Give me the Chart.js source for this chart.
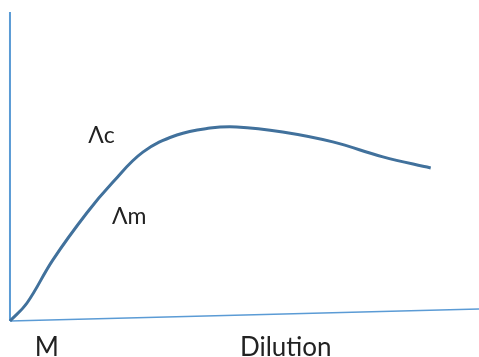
<!DOCTYPE html>
<html>
<head>
<meta charset="utf-8">
<script src="https://cdn.jsdelivr.net/npm/chart.js@4.4.1/dist/chart.umd.min.js"></script>
<style>
  html, body { margin: 0; padding: 0; background: #fff; }
  #wrap { width: 479px; height: 357px; }
</style>
</head>
<body>
<div id="wrap"><canvas id="myChart" width="479" height="357"></canvas></div>
<script>
// conductivity vs dilution (arbitrary units)
const dilution = [0, 0.37, 0.93, 1.67, 2.24, 2.89, 3.63, 4.35, 4.93, 5.93, 7.02, 8.11, 9.15];
const conductivity = [0, 0.6, 2.03, 3.6, 4.63, 5.63, 6.2, 6.43, 6.47, 6.3, 5.97, 5.47, 5.1];

// hand drawn axes: y axis straight up, x axis slightly tilted
const yAxisEnd = [0, 10.3];
const xAxisEnd = [10.2, 0.4];

const labelTexts = ['Λc', 'Λm', 'M', 'Dilution'];
const labelX = [1.7, 2.22, 0.54, 5.0];
const labelY = [5.93, 3.23, -1.17, -1.17];

const textLabels = {
  id: 'textLabels',
  afterDatasetsDraw(chart) {
    const { ctx, scales: { x, y } } = chart;
    ctx.save();
    ctx.fillStyle = '#222';
    ctx.textBaseline = 'alphabetic';
    ctx.textAlign = 'left';
    labelTexts.forEach((t, i) => {
      ctx.font = i < 2 ? '23px Lato' : '26px Lato';
      ctx.fillText(t, x.getPixelForValue(labelX[i]), y.getPixelForValue(labelY[i]));
    });
    ctx.restore();
  }
};

const ctx = document.getElementById('myChart').getContext('2d');
new Chart(ctx, {
  type: 'scatter',
  data: {
    datasets: [
      {
        data: dilution.map((d, i) => ({ x: d, y: conductivity[i] })),
        showLine: true,
        borderColor: '#41719c',
        borderWidth: 3,
        pointRadius: 0,
        tension: 0.4,
        order: 0,
      },
      {
        data: [{ x: 0, y: 0 }, { x: yAxisEnd[0], y: yAxisEnd[1] }],
        showLine: true,
        borderColor: '#5b9bd5',
        borderWidth: 2,
        pointRadius: 0,
        order: 1,
      },
      {
        data: [{ x: 0, y: 0 }, { x: xAxisEnd[0], y: xAxisEnd[1] }],
        showLine: true,
        borderColor: '#5b9bd5',
        borderWidth: 1.6,
        pointRadius: 0,
        order: 1,
      },
    ],
  },
  options: {
    responsive: false,
    animation: false,
    layout: { padding: 0 },
    plugins: {
      legend: { display: false },
      tooltip: { enabled: false },
    },
    scales: {
      x: { type: 'linear', min: -0.217, max: 10.2, display: false },
      y: { type: 'linear', min: -1.2, max: 10.7, display: false },
    },
  },
  plugins: [textLabels],
});
</script>
</body>
</html>
